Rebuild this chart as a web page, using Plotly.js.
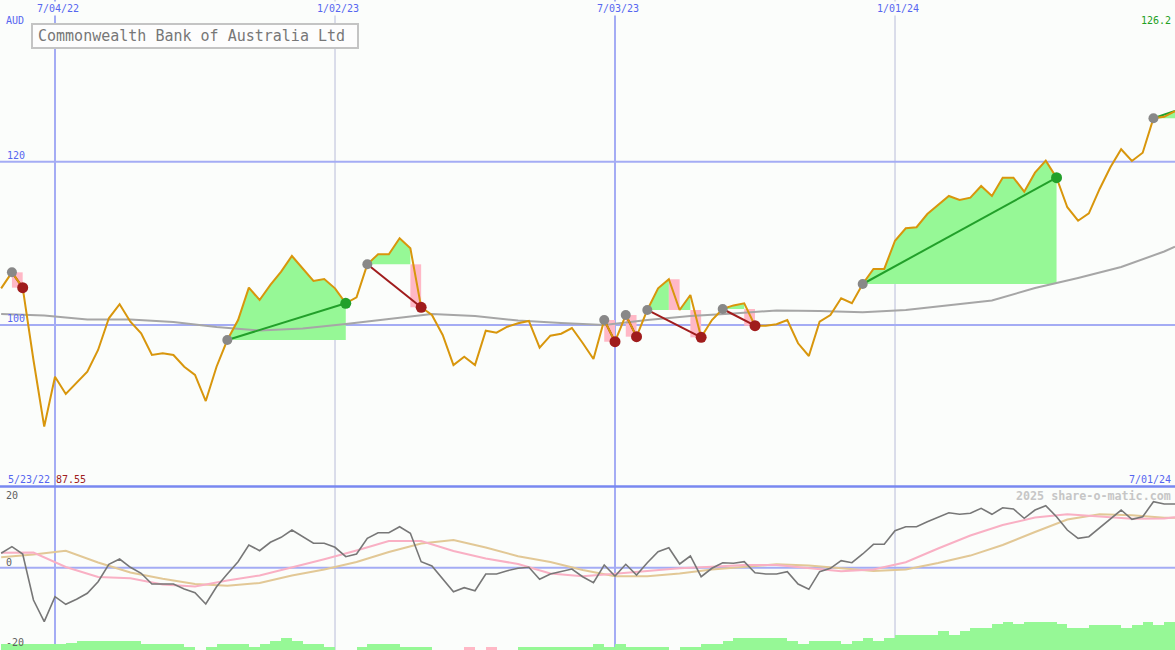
<!DOCTYPE html>
<html><head><meta charset="utf-8">
<script src="https://cdn.plot.ly/plotly-3.0.1.min.js"></script>
<style>html,body{margin:0;padding:0;background:#fbfdfb;}#chart{width:1175px;height:650px;}</style>
</head><body><div id="chart"></div>
<script>
// ---------------- data ----------------
const firstWeek = '2022-05-30';           // weekly closes, Mondays
const price = [
104.49,106.45,104.57,95.71,87.55,93.67,91.55,92.86,94.28,96.94,
100.82,102.54,100.40,98.98,96.33,96.53,96.33,94.89,93.88,90.69,
94.89,98.16,100.61,104.57,103.06,104.90,106.53,108.45,106.94,105.39,
105.63,104.49,102.66,103.39,107.43,108.66,108.66,110.62,109.39,102.17,
101.22,98.78,95.10,96.12,95.10,99.30,99.06,99.79,100.21,100.49,
97.22,98.69,98.93,99.63,97.80,95.84,100.61,97.95,101.22,98.57,
101.84,104.49,105.60,101.84,103.67,98.49,100.61,101.96,102.40,102.66,
99.91,99.91,100.09,100.61,97.76,96.20,100.40,101.22,103.27,102.66,
105.02,106.86,106.86,110.32,111.84,111.97,113.59,114.70,115.80,115.31,
115.59,117.02,115.80,118.04,118.04,116.33,118.65,120.12,118.04,114.42,
112.77,113.68,116.66,119.31,121.52,120.09,121.10,125.32,125.50,126.20];
const maWeeks = [0,4,8,12,16,20,24,28,32,36,40,44,48,52,56,60,64,68,72,76,80,84,88,92,96,100,104,108,109];
const maValues = [101.35,101.16,100.67,100.67,100.37,99.76,99.33,99.57,100.12,100.74,101.35,101.10,100.55,100.24,100.0,100.61,101.10,101.41,101.78,101.71,101.56,101.84,102.39,103.0,104.53,105.76,107.1,109.0,109.59];
const momentum = [
4.32,6.30,4.11,-9.69,-16.19,-8.70,-10.97,-9.48,-7.68,-4.20,
1.02,2.61,0.12,-1.68,-4.89,-4.89,-4.89,-6.39,-7.50,-10.88,
-5.70,-1.89,1.80,6.81,5.10,7.62,9.12,11.30,9.30,7.32,
7.32,6.12,3.30,4.11,8.82,10.49,10.49,12.29,10.31,1.80,
0.51,-3.18,-7.20,-6.00,-6.90,-1.89,-1.89,-0.90,-0.18,0.12,
-3.48,-1.89,-1.20,-0.39,-2.70,-4.50,0.81,-2.49,1.02,-2.19,
1.50,4.80,6.00,1.11,3.51,-2.70,-0.18,1.50,1.32,1.80,
-1.50,-1.89,-1.89,-1.20,-4.89,-6.48,-1.20,-0.18,2.10,1.50,
4.11,7.02,7.02,11.09,12.29,12.29,13.79,15.11,16.49,16.01,
16.31,17.81,16.01,17.99,17.60,14.81,17.30,18.59,15.29,11.30,
8.82,9.30,11.99,14.51,17.30,14.51,15.29,19.79,19.10,19.10];
const sigWeeks = [0,3,6,9,12,15,18,21,24,27,30,33,36,39,42,45,48,51,54,57,60,63,66,69,72,75,78,81,84,87,90,93,96,99,102,105,108,109];
const sigFast = [4.50,4.56,0.21,-2.79,-3.15,-5.04,-5.61,-3.84,-2.31,0.06,2.52,5.16,8.01,8.01,5.01,2.76,1.11,-1.74,-2.58,-1.80,-0.90,-0.18,0.30,0.81,0.81,-0.03,-1.08,-0.54,1.65,5.76,9.66,12.80,15.05,16.01,15.35,14.69,14.75,15.11];
const sigSlow = [3.12,3.96,5.07,1.56,-1.44,-3.30,-4.89,-5.43,-4.59,-2.34,-0.54,1.71,4.71,7.23,8.31,6.06,3.45,1.71,-0.69,-2.58,-2.55,-1.77,-0.57,0.33,1.05,0.66,-0.24,-0.99,-0.54,1.41,3.63,6.81,10.70,14.45,16.01,15.71,14.99,14.99];
const volBars = [
6,6,6,6,6,6,7,9,9,9,
9,9,9,6,6,6,6,3.3,0,3.3,
6,6,6,3.3,6,9,12,9,6,6,
3.3,0,0,3.3,6,6,6,3,3,3,
0,0,0,2.7,0,2.7,0,0,3,3,
3,3,3,3,3,6,3,6,3,3,
3,3,0,3,3,6,6,9,12,12,
12,12,12,9,6,9,9,9,6,9,
12,9,12,15,15,15,15,19,15,19,
22.3,22.3,25.7,28.3,25.7,28.3,28.3,28.3,25.7,22.3,
22.3,25,25,25,22.3,25,28.3,25,28.3,28.3];
const volNegWeeks = [43,45];
const tradeEntry = [1,21,34,56,58,60,67,80,107];
const tradeExit  = [2,32,39,57,59,65,70,98,109];
const tradeOpen  = [false,false,false,false,false,false,false,false,true];
const gridDates  = ['2022-07-04','2023-01-02','2023-07-03','2024-01-01'];
const gridLabels = ['7/04/22','1/02/23','7/03/23','1/01/24'];
const gridMajor  = [true,false,true,false];
const priceTicks = [100,120];
const oscLabels  = ['20','0','-20'];
const titleText  = 'Commonwealth Bank of Australia Ltd';
const currency   = 'AUD';
const startLabel = '5/23/22';
const endLabel   = '7/01/24';
const watermark  = '2025 share-o-matic.com';

// ---------------- build ----------------
const DAY = 86400000, WEEK = 7*DAY;
const t0 = Date.parse(firstWeek + 'T00:00:00Z');
const xw = k => t0 + k*WEEK;
const xs = price.map((_, k) => xw(k));

const C = {
  bg:'#fbfdfb', price:'#d8960c', ma:'#a6a6a6', green:'#96f896', pink:'#ffb8c6',
  win:'#22a02a', loss:'#a01c1c', entry:'#888888', grid:'#a4acf4', gridMinor:'#b8bcd8',
  sep:'#7888f0', blue:'#5666f0', mom:'#777777', fast:'#f9b0c4', slow:'#e2c896'
};

const traces = [];
const fillTr = (x, y, color) => traces.push({x, y, mode:'lines', fill:'toself', fillcolor:color,
  line:{width:0, color:color}, hoverinfo:'skip', showlegend:false, xaxis:'x', yaxis:'y'});

tradeEntry.forEach((e, ti) => {
  const ex = tradeExit[ti], E = price[e];
  let run = null;
  const closeRun = () => {
    if (!run) return;
    const last = run[run.length-1][0];
    run.push([last, E]);
    fillTr(run.map(p=>p[0]), run.map(p=>p[1]), C.green);
    run = null;
  };
  for (let i = e; i < ex; i++) {
    const a = price[i], b = price[i+1];
    if (b > E) {
      if (!run) {
        let xs0 = xs[i];
        if (a < E) xs0 = xs[i] + (E - a)/(b - a)*(xs[i+1]-xs[i]);
        run = [[xs0, E], [xs0, Math.max(a, E)]];
      }
      run.push([xs[i+1], b]);
    } else {
      closeRun();
      const far = Math.abs(a - E) > Math.abs(b - E) ? a : b;
      fillTr([xs[i], xs[i], xs[i+1], xs[i+1], xs[i]], [E, far, far, E, E], C.pink);
    }
  }
  closeRun();
});

traces.push({x: maWeeks.map(xw), y: maValues, mode:'lines', line:{color:C.ma, width:2},
  hoverinfo:'skip', xaxis:'x', yaxis:'y'});

tradeEntry.forEach((e, ti) => {
  const ex = tradeExit[ti];
  const win = price[ex] >= price[e];
  traces.push({x:[xs[e], xs[ex]], y:[price[e], price[ex]], mode:'lines',
    line:{color: win ? C.win : C.loss, width:2}, hoverinfo:'skip', xaxis:'x', yaxis:'y'});
});

traces.push({x: xs, y: price, mode:'lines', line:{color:C.price, width:2},
  hoverinfo:'skip', xaxis:'x', yaxis:'y'});

traces.push({x: tradeEntry.map(k=>xs[k]), y: tradeEntry.map(k=>price[k]), mode:'markers',
  marker:{color:C.entry, size:10}, hoverinfo:'skip', xaxis:'x', yaxis:'y'});
const exIdx = tradeExit.filter((_, i) => !tradeOpen[i]);
const exWin = tradeExit.map((k,i)=>price[k] >= price[tradeEntry[i]]).filter((_, i) => !tradeOpen[i]);
traces.push({x: exIdx.map(k=>xs[k]), y: exIdx.map(k=>price[k]), mode:'markers',
  marker:{color: exWin.map(w => w ? C.win : C.loss), size:11}, hoverinfo:'skip', xaxis:'x', yaxis:'y'});

// lower panel
traces.push({type:'bar', x: xs, y: volBars, width: WEEK, offset: 0,
  marker:{color: volBars.map((_, k) => volNegWeeks.includes(k) ? C.pink : C.green), line:{width:0}},
  hoverinfo:'skip', xaxis:'x', yaxis:'y3'});
traces.push({x: sigWeeks.map(xw), y: sigSlow, mode:'lines', line:{color:C.slow, width:2},
  hoverinfo:'skip', xaxis:'x', yaxis:'y2'});
traces.push({x: sigWeeks.map(xw), y: sigFast, mode:'lines', line:{color:C.fast, width:2},
  hoverinfo:'skip', xaxis:'x', yaxis:'y2'});
traces.push({x: xs, y: momentum, mode:'lines', line:{color:C.mom, width:1.6},
  hoverinfo:'skip', xaxis:'x', yaxis:'y2'});

// geometry
const W = 1175, H = 650, SPLIT = 487;
const py = p => 1 - p/H, px = p => p/W;
const dom1 = [py(SPLIT), 1], dom2 = [0, py(SPLIT)];

const shapes = [];
gridDates.forEach((d, i) => shapes.push({type:'line', xref:'x', yref:'paper', x0:d, x1:d, y0:0, y1:1,
  layer:'below', line:{color: gridMajor[i] ? C.grid : C.gridMinor, width: gridMajor[i] ? 2 : 1}}));
priceTicks.forEach(v => shapes.push({type:'line', xref:'paper', yref:'y', x0:0, x1:1, y0:v, y1:v,
  layer:'below', line:{color:C.grid, width:2}}));
shapes.push({type:'line', xref:'paper', yref:'y2', x0:0, x1:1, y0:0, y1:0, layer:'below', line:{color:C.grid, width:2}});
shapes.push({type:'line', xref:'paper', yref:'paper', x0:0, x1:1, y0:py(486.5), y1:py(486.5), layer:'above', line:{color:C.sep, width:2.5}});
shapes.push({type:'rect', xref:'paper', yref:'paper', x0:px(32), x1:px(358), y0:py(48), y1:py(24),
  layer:'above', fillcolor:'#fdfdfd', line:{color:'#c4c4c4', width:2}});

const mono = 'DejaVu Sans Mono, Liberation Mono, monospace';
const ann = [];
const txt = (text, x, y, color, opts={}) => ann.push(Object.assign({text, x:px(x), y:py(y), xref:'paper', yref:'paper',
  showarrow:false, xanchor:'left', yanchor:'middle', font:{family:mono, size:10, color}, borderpad:0}, opts));
gridDates.forEach((d, i) => ann.push({text:gridLabels[i], x:d, xref:'x', xshift:3, y:py(8), yref:'paper',
  showarrow:false, xanchor:'center', yanchor:'middle', bgcolor:C.bg, borderpad:1, font:{family:mono, size:10, color:C.blue}}));
priceTicks.forEach(v => ann.push({text:String(v), x:px(5), xref:'paper', y:v, yref:'y', yshift:6.5,
  showarrow:false, xanchor:'left', yanchor:'middle', font:{family:mono, size:10, color:C.blue}}));
txt(currency, 5, 20, C.blue);
txt(price[price.length-1].toFixed(1), 1172, 20, '#22a022', {xanchor:'right'});
txt(startLabel, 7, 479, C.blue);
txt(Math.min(...price).toFixed(2), 55, 479, '#a02020');
txt(endLabel, 1172, 479, C.blue, {xanchor:'right'});
txt(oscLabels[0], 5, 495, '#606060');
txt(oscLabels[1], 5, 562, '#606060');
txt(oscLabels[2], 5, 642, '#606060');
txt(watermark, 1172, 496, '#c6c6c6', {xanchor:'right', font:{family:mono, size:11.7, color:'#c6c6c6', weight:'bold'}});
txt(titleText, 37, 36, '#777777', {font:{family:mono, size:15, color:'#777777'}});

const layout = {
  width: W, height: H, margin:{l:0, r:0, t:0, b:0, pad:0},
  paper_bgcolor: C.bg, plot_bgcolor: C.bg, showlegend:false, hovermode:false, bargap:0,
  xaxis:{type:'date', range:['2022-05-29 06:00', '2024-07-01'], visible:false, fixedrange:true},
  yaxis:{domain:dom1, range:[80.16, 139.8], visible:false, fixedrange:true},
  yaxis2:{domain:dom2, range:[-24.68, 24.2], visible:false, fixedrange:true},
  yaxis3:{domain:dom2, range:[0, SPLIT - H < 0 ? H - SPLIT : 163], overlaying:'y2', visible:false, fixedrange:true},
  shapes, annotations: ann
};
Plotly.newPlot('chart', traces, layout, {staticPlot:true, displayModeBar:false});
</script></body></html>
